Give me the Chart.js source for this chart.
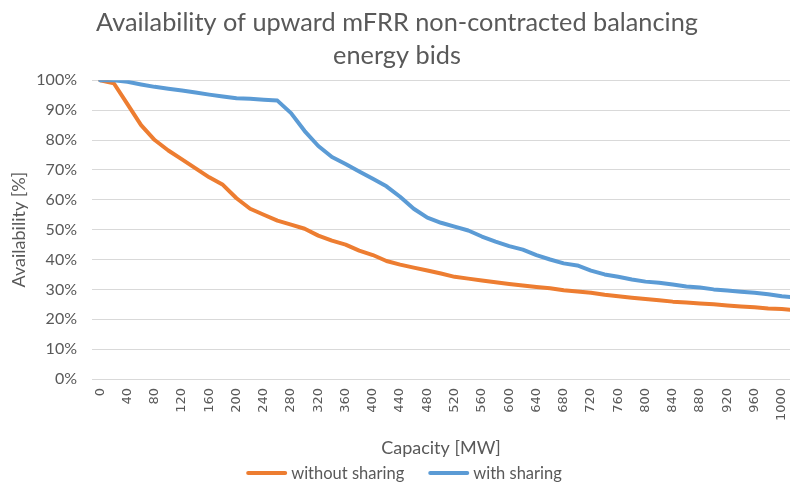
<!DOCTYPE html>
<html lang="en">
<head>
    <meta charset="UTF-8">
    <title>Availability of upward mFRR bids</title>
    <script src="https://cdn.jsdelivr.net/npm/chart.js"></script>
    <style>
        body {
            margin: 0;
            padding: 0;
            background: #ffffff;
        }
        .chart-box {
            width: 790px;
            height: 484px;
        }
    </style>
</head>
<body>
    <div class="chart-box">
        <canvas id="availChart" width="790" height="484"></canvas>
    </div>
    <script>
        // capacity in MW (every 20 MW)
        var capacity = [0, 20, 40, 60, 80, 100, 120, 140, 160, 180, 200, 220, 240, 260, 280, 300,
            320, 340, 360, 380, 400, 420, 440, 460, 480, 500, 520, 540, 560, 580, 600, 620, 640,
            660, 680, 700, 720, 740, 760, 780, 800, 820, 840, 860, 880, 900, 920, 940, 960, 980,
            1000, 1020];

        // availability in %
        var withoutSharing = [100, 99, 92, 85, 80, 76.5, 73.5, 70.5, 67.5, 65, 60.5, 57, 55, 53,
            51.7, 50.3, 48, 46.3, 45, 43, 41.5, 39.5, 38.3, 37.3, 36.3, 35.3, 34.2, 33.6, 33,
            32.4, 31.8, 31.3, 30.8, 30.4, 29.7, 29.3, 28.9, 28.2, 27.7, 27.2, 26.8, 26.4, 25.9,
            25.6, 25.3, 25, 24.6, 24.3, 24, 23.6, 23.4, 23.1];

        var withSharing = [100, 100, 99.5, 98.6, 97.8, 97.2, 96.6, 95.9, 95.2, 94.6, 94, 93.8,
            93.5, 93.2, 89, 83, 78, 74.3, 72, 69.5, 67, 64.5, 61, 57, 54, 52.3, 51, 49.7, 47.7,
            46, 44.5, 43.3, 41.5, 40, 38.7, 38, 36.3, 35, 34.2, 33.3, 32.6, 32.2, 31.6, 31, 30.6,
            30, 29.6, 29.2, 28.9, 28.4, 27.7, 27.3];

        var seriesNames = ['without sharing', 'with sharing'];
        var titleLines = ['Availability of upward mFRR non-contracted balancing', 'energy bids'];

        function toPoints(values) {
            return values.map(function (v, i) {
                return { x: capacity[i], y: v };
            });
        }

        var grey = '#595959';

        // Excel-like legend: short thick line right next to the text
        var lineLegend = {
            id: 'lineLegend',
            afterDraw: function (chart) {
                var c = chart.ctx;
                var sets = chart.data.datasets;
                var sampleW = 41, gap = 4, itemGap = 24;
                c.save();
                c.font = '16.5px Lato';
                c.textBaseline = 'middle';
                var total = 0;
                sets.forEach(function (ds, i) {
                    total += sampleW + gap + c.measureText(ds.label).width;
                    if (i < sets.length - 1) total += itemGap;
                });
                var x = 404 - total / 2;
                var y = 474;
                sets.forEach(function (ds) {
                    c.strokeStyle = ds.borderColor;
                    c.lineWidth = 4;
                    c.lineCap = 'round';
                    c.beginPath();
                    c.moveTo(x + 2, y - 1);
                    c.lineTo(x + sampleW - 2, y - 1);
                    c.stroke();
                    x += sampleW + gap;
                    c.fillStyle = grey;
                    c.fillText(ds.label, x, y);
                    x += c.measureText(ds.label).width + itemGap;
                });
                c.restore();
            }
        };

        var ctx = document.getElementById('availChart').getContext('2d');
        var availChart = new Chart(ctx, {
            type: 'line',
            data: {
                datasets: [{
                    label: seriesNames[0],
                    data: toPoints(withoutSharing),
                    borderColor: '#ED7D31',
                    backgroundColor: '#ED7D31',
                    borderWidth: 4,
                    borderCapStyle: 'round',
                    borderJoinStyle: 'round',
                    pointRadius: 0,
                    tension: 0,
                    order: 1
                }, {
                    label: seriesNames[1],
                    data: toPoints(withSharing),
                    borderColor: '#5B9BD5',
                    backgroundColor: '#5B9BD5',
                    borderWidth: 4,
                    borderCapStyle: 'round',
                    borderJoinStyle: 'round',
                    pointRadius: 0,
                    tension: 0,
                    order: 0
                }]
            },
            plugins: [lineLegend],
            options: {
                responsive: false,
                animation: false,
                layout: {
                    padding: { left: 4, right: 0, top: 6, bottom: 25 }
                },
                plugins: {
                    title: {
                        display: true,
                        text: titleLines,
                        color: grey,
                        font: { family: 'Lato', size: 25.3, weight: 'normal', lineHeight: 1.31 },
                        padding: { top: 0, bottom: 8 }
                    },
                    legend: { display: false },
                    tooltip: { enabled: false }
                },
                scales: {
                    x: {
                        type: 'linear',
                        min: -12,
                        max: 1012,
                        grid: { display: false, drawTicks: false },
                        border: { display: false },
                        afterFit: function (scale) {
                            scale.paddingLeft = 0;
                            scale.paddingRight = 0;
                            scale.height = 80;
                        },
                        ticks: {
                            stepSize: 40,
                            includeBounds: false,
                            minRotation: 90,
                            maxRotation: 90,
                            color: grey,
                            font: { family: 'DejaVu Sans', size: 13 },
                            padding: 9,
                            callback: function (v) { return String(v); }
                        },
                        title: {
                            display: true,
                            text: 'Capacity [MW]',
                            color: grey,
                            font: { family: 'Lato', size: 18 },
                            padding: { top: 12, bottom: 0 }
                        }
                    },
                    y: {
                        min: 0,
                        max: 100,
                        grid: { color: '#d9d9d9', drawTicks: false },
                        border: { display: false },
                        afterFit: function (scale) {
                            scale.width = 88;
                        },
                        ticks: {
                            stepSize: 10,
                            color: grey,
                            font: { family: 'Lato', size: 16 },
                            padding: 15,
                            callback: function (v) { return v + '%'; }
                        },
                        title: {
                            display: true,
                            text: 'Availability [%]',
                            color: grey,
                            font: { family: 'Lato', size: 18 },
                            padding: { top: 4, bottom: 6 }
                        }
                    }
                }
            }
        });
    </script>
</body>
</html>
